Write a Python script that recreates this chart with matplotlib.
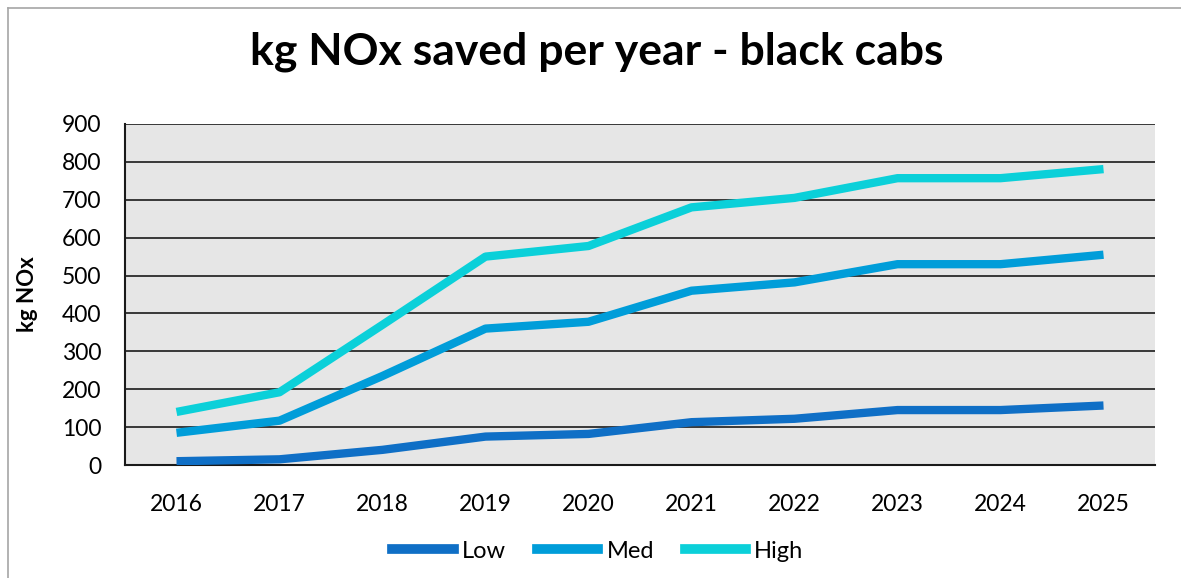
import matplotlib
matplotlib.use('Agg')
import matplotlib.pyplot as plt
from matplotlib.lines import Line2D
import numpy as np

# ── Data ──────────────────────────────────────────────────────────────────────
years = ['2016', '2017', '2018', '2019', '2020', '2021', '2022', '2023', '2024', '2025']
low  = [10, 15, 40, 75, 82, 113, 122, 145, 145, 157]
med  = [85, 117, 235, 360, 378, 460, 482, 530, 530, 555]
high = [140, 192, 370, 550, 578, 680, 705, 757, 757, 781]
yticks = [0, 100, 200, 300, 400, 500, 600, 700, 800, 900]

LOW_C  = '#0F6FC6'
MED_C  = '#009DD9'
HIGH_C = '#0BD0D9'
PLOT_BG = '#E6E6E6'
FONT = 'Lato'

fig = plt.figure(figsize=(11.81, 5.78), dpi=100)
ax = fig.add_axes([125 / 1181, 1 - 465 / 578, 1030 / 1181, 341 / 578])
ax.set_facecolor(PLOT_BG)

x = np.arange(len(years))
for vals, col in ((low, LOW_C), (med, MED_C), (high, HIGH_C)):
    ax.plot(x, vals, color=col, lw=6, solid_capstyle='butt',
            solid_joinstyle='round', zorder=3)

ax.set_xlim(-0.5, len(years) - 0.5)
ax.set_ylim(0, 900)
ax.set_xticks(x)
ax.set_xticklabels(years, fontsize=16.5, family=FONT)
ax.set_yticks(yticks)
ax.set_yticklabels([str(v) for v in yticks], fontsize=16.5, family=FONT)
ax.tick_params(axis='x', length=0, pad=21)
ax.tick_params(axis='y', length=0, pad=17)
ax.yaxis.grid(True, color='#1a1a1a', lw=1.2, zorder=1)
ax.set_axisbelow(True)
ax.spines[['top', 'right']].set_visible(False)
ax.spines[['left', 'bottom']].set_color('#1a1a1a')
ax.spines[['left', 'bottom']].set_linewidth(1.5)

ax.set_ylabel('kg NOx', fontsize=16, fontweight='bold', family=FONT)
ax.yaxis.set_label_coords(-(125 - 38) / 1030, 0.5)

fig.text(597 / 1181, 1 - 52 / 578, 'kg NOx saved per year - black cabs',
         ha='center', va='center', fontsize=32, fontweight='bold', family=FONT)

handles = [Line2D([0], [0], color=c, lw=7) for c in (LOW_C, MED_C, HIGH_C)]
fig.legend(handles, ['Low', 'Med', 'High'], loc='center', ncol=3,
           bbox_to_anchor=(598 / 1181, 1 - 551 / 578), frameon=False,
           prop={'family': FONT, 'size': 17}, handlelength=2.6,
           columnspacing=1.3, handletextpad=0.35)

# chart border (partly cropped on the right and bottom)
border = '#A6A6A6'
fig.add_artist(Line2D([8 / 1181, 1.0], [1 - 8 / 578, 1 - 8 / 578], color=border, lw=1.2))
fig.add_artist(Line2D([8 / 1181, 8 / 1181], [0.0, 1 - 8 / 578], color=border, lw=1.2))

fig.savefig('out.png', dpi=100, facecolor='white')
